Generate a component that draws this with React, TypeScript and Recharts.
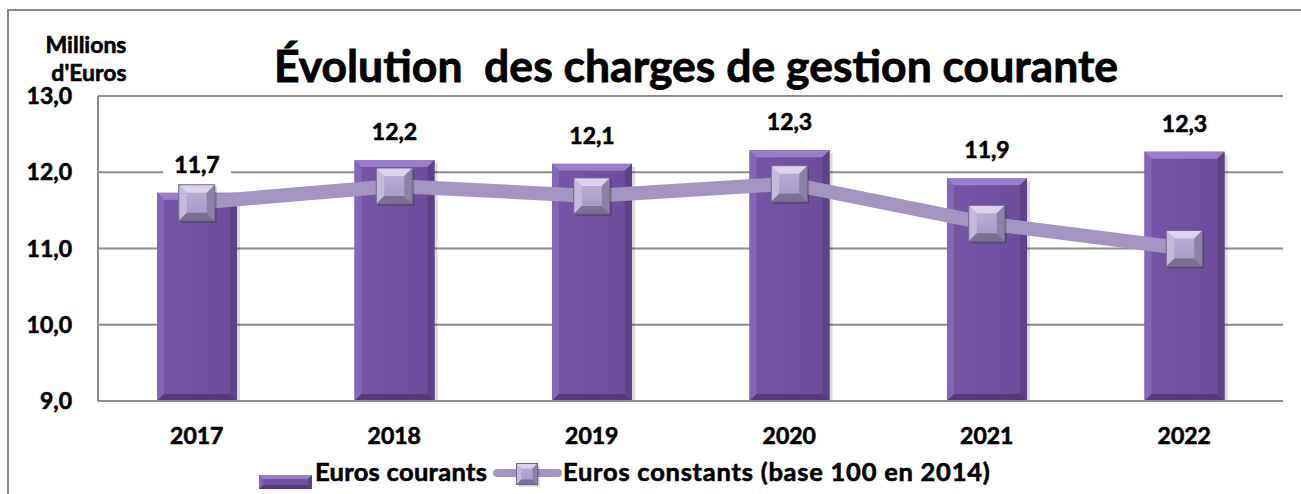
import React from 'react';
import { ComposedChart, Bar, Line, XAxis, YAxis, CartesianGrid, Legend, LabelList } from 'recharts';

const years = ['2017', '2018', '2019', '2020', '2021', '2022'];
const eurosCourants = [11.73, 12.16, 12.11, 12.29, 11.92, 12.27];
const eurosConstants = [11.6, 11.82, 11.69, 11.85, 11.33, 11.0];
const yTicks = [9, 10, 11, 12, 13];
const seriesNames = ['Euros courants', 'Euros constants (base 100 en 2014)'];
const titleText = 'Évolution  des charges de gestion courante';
const unitLines = ['Millions', "d'Euros"];

const data = years.map((y, i) => ({ year: y, courants: eurosCourants[i], constants: eurosConstants[i] }));

const FONT = 'Lato, "Open Sans", sans-serif';
const fmt = (v: number) => v.toFixed(1).replace('.', ',');
const HEAVY = { stroke: '#000', strokeWidth: 0.6 };

const BevelBar = (props: any) => {
  const { x, y, width: w, height: h, index } = props;
  if (!(h > 0)) return null;
  const b = 7;
  const gid = `barg${index}`;
  return (
    <g>
      <defs>
        <linearGradient id={gid} x1="0" y1="0" x2="1" y2="0">
          <stop offset="0" stopColor="#7655a6" />
          <stop offset="1" stopColor="#6c4d9b" />
        </linearGradient>
      </defs>
      <rect x={x + 3} y={y + 3} width={w} height={h} fill="rgba(0,0,0,0.15)" />
      <rect x={x} y={y} width={w} height={h} fill={`url(#${gid})`} />
      <polygon points={`${x},${y} ${x + w},${y} ${x + w - b},${y + b} ${x + b},${y + b}`} fill="#9a7dcb" />
      <polygon points={`${x},${y} ${x + b},${y + b} ${x + b},${y + h - b} ${x},${y + h}`} fill="#8466b6" />
      <polygon points={`${x + w},${y} ${x + w},${y + h} ${x + w - b},${y + h - b} ${x + w - b},${y + b}`} fill="#5d4286" />
      <polygon points={`${x},${y + h} ${x + w},${y + h} ${x + w - b},${y + h - b} ${x + b},${y + h - b}`} fill="#553b7b" />
    </g>
  );
};

const BevelSquare = ({ cx, cy, s, b, keyId }: { cx: number; cy: number; s: number; b: number; keyId: string }) => {
  const x = cx - s / 2;
  const y = cy - s / 2;
  return (
    <g key={keyId}>
      <defs>
        <linearGradient id={keyId} x1="0" y1="0" x2="0" y2="1">
          <stop offset="0" stopColor="#bdb1d8" />
          <stop offset="1" stopColor="#a596c6" />
        </linearGradient>
      </defs>
      <rect x={x + 2} y={y + 2} width={s} height={s} fill="rgba(0,0,0,0.2)" />
      <rect x={x} y={y} width={s} height={s} fill={`url(#${keyId})`} />
      <polygon points={`${x},${y} ${x + s},${y} ${x + s - b},${y + b} ${x + b},${y + b}`} fill="#ded3ee" />
      <polygon points={`${x},${y} ${x + b},${y + b} ${x + b},${y + s - b} ${x},${y + s}`} fill="#c6b9de" />
      <polygon points={`${x + s},${y} ${x + s},${y + s} ${x + s - b},${y + s - b} ${x + s - b},${y + b}`} fill="#8d81a8" />
      <polygon points={`${x},${y + s} ${x + s},${y + s} ${x + s - b},${y + s - b} ${x + b},${y + s - b}`} fill="#7b7093" />
      <rect x={x} y={y} width={s} height={s} fill="none" stroke="#6f6686" strokeWidth={1} />
    </g>
  );
};

const renderDot = (props: any) => {
  const { cx, cy, index } = props;
  if (cx == null || cy == null) return <g key={`d${index}`} />;
  return <BevelSquare key={`d${index}`} keyId={`dotg${index}`} cx={cx} cy={cy} s={36} b={8} />;
};

const renderBarLabel = (props: any) => {
  const { x, y, width, value } = props;
  const cx = x + width / 2;
  return (
    <g>
      <rect x={cx - 34} y={y - 46} width={68} height={34} fill="#ffffff" />
      <text x={cx} y={y - 20} textAnchor="middle" fontFamily={FONT} fontWeight={700} fontSize={23} fill="#000" {...HEAVY}>
        {fmt(Number(value))}
      </text>
    </g>
  );
};

const renderLegend = () => (
  <svg width={1301} height={38} style={{ display: 'block' }}>
    <g transform="translate(259,19)">
      <rect x={0} y={0} width={53} height={14} fill="#6f4f9e" />
      <polygon points="0,0 53,0 49,4 4,4" fill="#9a7dcb" />
      <polygon points="0,14 53,14 49,10 4,10" fill="#553b7b" />
      <polygon points="53,0 53,14 49,10 49,4" fill="#5d4286" />
      <polygon points="0,0 0,14 4,10 4,4" fill="#8466b6" />
    </g>
    <text x={315} y={25} fontFamily={FONT} fontWeight={700} fontSize={25.5} letterSpacing={0.3} fill="#000" {...HEAVY}>{seriesNames[0]}</text>
    <line x1={497} y1={17} x2={558} y2={17} stroke="#a394c2" strokeWidth={8} strokeLinecap="round" />
    <BevelSquare cx={527} cy={18} s={21} b={5} keyId="legsq" />
    <text x={563} y={25} fontFamily={FONT} fontWeight={700} fontSize={25.5} letterSpacing={0.75} fill="#000" {...HEAVY}>{seriesNames[1]}</text>
  </svg>
);

export default function App() {
  return (
    <div style={{ position: 'absolute', left: 0, top: 0, width: 1301, height: 494, overflow: 'hidden', background: '#fff' }}>
      <div style={{ position: 'absolute', left: 7, top: 9, width: 1400, height: 600, borderTop: '2px solid #8a8a8a', borderLeft: '2px solid #8a8a8a' }} />
      <div style={{ position: 'absolute', left: 0, top: 0 }}>
        <ComposedChart width={1301} height={494} data={data} margin={{ top: 96, right: 18, left: 0, bottom: 0 }} barSize={80}>
          <CartesianGrid horizontal vertical={false} stroke="#8c8c8c" strokeWidth={2} />
          <XAxis
            dataKey="year"
            height={55}
            tickLine={false}
            tickSize={0}
            tickMargin={27}
            axisLine={{ stroke: '#8c8c8c', strokeWidth: 2 }}
            tick={{ fontFamily: FONT, fontWeight: 700, fontSize: 23, fill: '#000', ...HEAVY }}
          />
          <YAxis
            width={98}
            domain={[9, 13]}
            ticks={yTicks}
            interval={0}
            allowDataOverflow
            tickLine={false}
            tickSize={0}
            tickMargin={26}
            tickFormatter={fmt}
            axisLine={{ stroke: '#8c8c8c', strokeWidth: 2 }}
            tick={{ fontFamily: FONT, fontWeight: 700, fontSize: 23, fill: '#000', ...HEAVY }}
          />
          <Legend verticalAlign="bottom" height={38} content={renderLegend} wrapperStyle={{ left: 0, width: 1301, height: 38, margin: 0, padding: 0 }} />
          <Bar dataKey="courants" name={seriesNames[0]} shape={BevelBar} isAnimationActive={false}>
            <LabelList dataKey="courants" content={renderBarLabel} />
          </Bar>
          <Line
            dataKey="constants"
            name={seriesNames[1]}
            type="linear"
            stroke="#a394c2"
            strokeWidth={14}
            dot={renderDot}
            activeDot={false}
            isAnimationActive={false}
          />
        </ComposedChart>
      </div>
      <svg width={1301} height={120} style={{ position: 'absolute', left: 0, top: 0, pointerEvents: 'none' }}>
        <text x={696} y={82} textAnchor="middle" fontFamily={FONT} fontWeight={700} fontSize={44.5} fill="#000" stroke="#000" strokeWidth={0.8} style={{ whiteSpace: 'pre' }}>
          {titleText}
        </text>
        <text x={86} y={53} textAnchor="middle" fontFamily={FONT} fontWeight={700} fontSize={23} fill="#000" {...HEAVY}>{unitLines[0]}</text>
        <text x={89} y={81} textAnchor="middle" fontFamily={FONT} fontWeight={700} fontSize={23} fill="#000" {...HEAVY}>{unitLines[1]}</text>
      </svg>
    </div>
  );
}
